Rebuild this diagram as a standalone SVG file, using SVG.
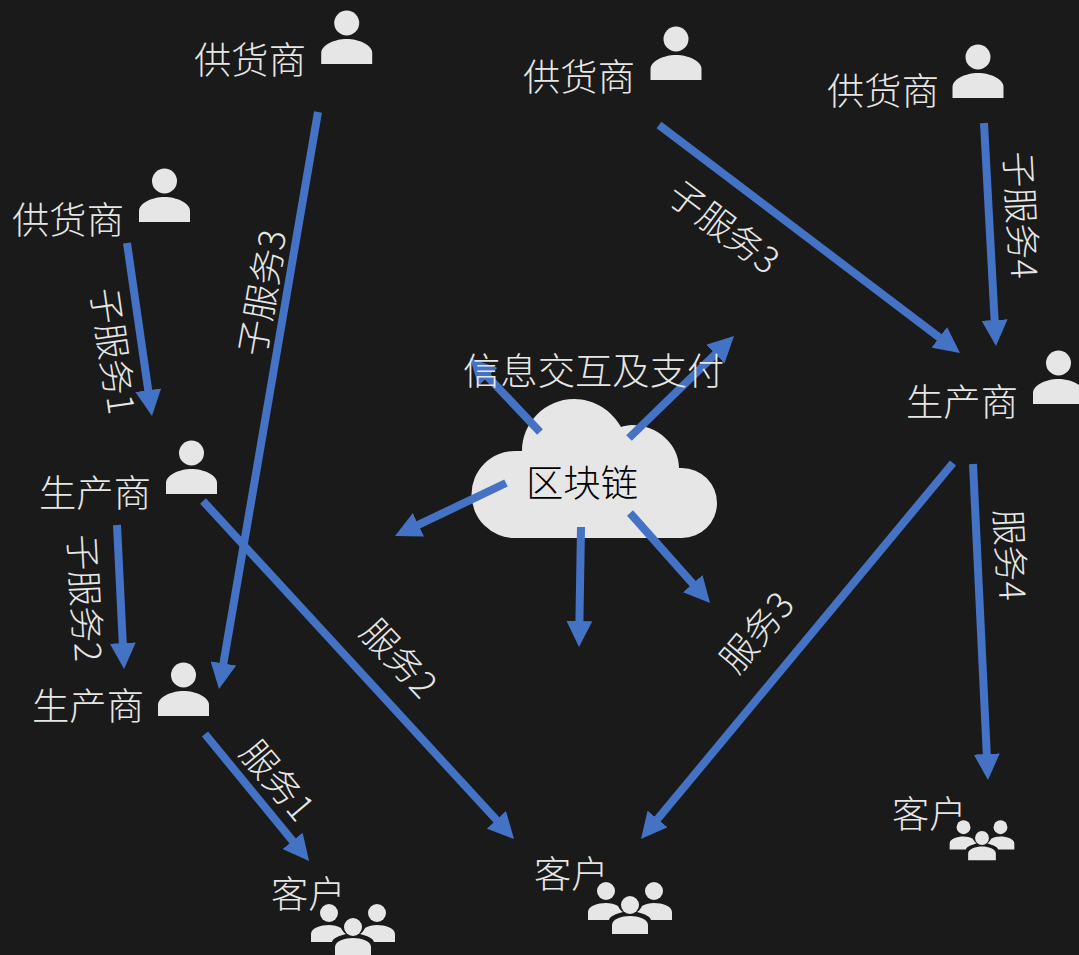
<svg xmlns="http://www.w3.org/2000/svg" width="1079" height="955" viewBox="0 0 1079 955">
<style>
text{font-family:"Noto Sans CJK SC","Noto Sans",sans-serif;font-size:37.33px;font-weight:300;fill:#e6e6e6}
.c{text-anchor:middle;font-size:36px}
.k{fill:#000}
.ic{fill:#e6e6e6}
line{stroke:#4472c4;stroke-width:8;marker-end:url(#ah)}
</style>
<defs>
<marker id="ah" markerUnits="userSpaceOnUse" markerWidth="26" markerHeight="26" refX="13" refY="13" orient="auto"><path d="M0,0L26,13L0,26Z" fill="#4472c4"/></marker>
<g id="person" class="ic"><circle cx="0" cy="0" r="12.5"/><path d="M-25.5,41V30C-25.5,22-12,16,0,16C12,16,25.5,22,25.5,30V41Z"/></g>
<g id="people" class="ic"><circle cx="0" cy="0" r="9"/><circle cx="-24" cy="-14" r="9"/><circle cx="24" cy="-14" r="9"/><path d="M-18,29V20C-18,14-8,11,0,11C8,11,18,14,18,20V29Z"/><path d="M-42,15V7C-42,1-32,-2-24,-2C-20,-2-15,-1-12,1C-11,3-9,6-7,7C-14,9-20,11-21,15Z"/><path d="M42,15V7C42,1,32,-2,24,-2C20,-2,15,-1,12,1C11,3,9,6,7,7C14,9,20,11,21,15Z"/></g>
</defs>
<rect width="1079" height="955" fill="#1a1a1a"/>
<g id="cloud"><path class="ic" d="M515,538A43.5,43.5 0 0 1 515,451H522C522,423 545,399 574,399C595,399 612,411 621,427C624,426 628,425 632,425C658,425 679,445 679,468H682A35,35 0 0 1 682,538Z"/><text class="k" x="526" y="497">区块链</text></g>
<g id="connectors">
<line x1="318" y1="112" x2="221.200" y2="676.200"/>
<line x1="127" y1="243" x2="150.100" y2="403.100"/>
<line x1="117" y1="525" x2="123.400" y2="656"/>
<line x1="203" y1="501" x2="505.200" y2="829.400"/>
<line x1="205" y1="734" x2="300.800" y2="850.900"/>
<line x1="659" y1="125" x2="949.600" y2="345.200"/>
<line x1="984" y1="123" x2="995.300" y2="333"/>
<line x1="953" y1="463" x2="649.300" y2="829"/>
<line x1="973" y1="464" x2="987.400" y2="767"/>
<line x1="540" y1="432" x2="478.900" y2="367.400"/>
<line x1="629" y1="438" x2="724.700" y2="345.100"/>
<line x1="506" y1="483" x2="406.700" y2="530.400"/>
<line x1="581" y1="527" x2="579.200" y2="634"/>
<line x1="630" y1="513" x2="701.400" y2="593.300"/>
</g>
<text id="info" x="463" y="385">信息交互及支付</text>
<g id="s1"><text x="194" y="74">供货商</text><use href="#person" x="346.700" y="23"/></g>
<g id="s2"><text x="523" y="91">供货商</text><use href="#person" x="676" y="39"/></g>
<g id="s3"><text x="827" y="105">供货商</text><use href="#person" x="978" y="57"/></g>
<g id="s4"><text x="12" y="234">供货商</text><use href="#person" x="164.500" y="181"/></g>
<g id="p1"><text x="906" y="416">生产商</text><use href="#person" x="1058.500" y="363"/></g>
<g id="p2"><text x="39" y="507">生产商</text><use href="#person" x="191.500" y="453"/></g>
<g id="p3"><text x="32" y="720">生产商</text><use href="#person" x="183.500" y="675"/></g>
<g id="c1"><text x="271" y="908">客户</text><use href="#people" x="353" y="927"/></g>
<g id="c2"><text x="534" y="888">客户</text><use href="#people" x="630" y="905"/></g>
<g id="c3"><text x="892" y="828">客户</text><use href="#people" transform="translate(982,838) scale(.77)"/></g>
<g id="labels">
<text class="c" transform="translate(263.500,293) rotate(-80)" y="12">子服务3</text>
<text class="c" transform="translate(112,351) rotate(82)" y="12">子服务1</text>
<text class="c" transform="translate(84,598) rotate(87)" y="12">子服务2</text>
<text class="c" transform="translate(276.500,781) rotate(50)" y="12">服务1</text>
<text class="c" transform="translate(398,659) rotate(47)" y="12">服务2</text>
<text class="c" transform="translate(723,228) rotate(37)" y="12">子服务3</text>
<text class="c" transform="translate(1020,215) rotate(87)" y="12">子服务4</text>
<text class="c" transform="translate(1009,555) rotate(87)" y="12">服务4</text>
<text class="c" transform="translate(757.500,633) rotate(-50)" y="12">服务3</text>
</g>
</svg>
